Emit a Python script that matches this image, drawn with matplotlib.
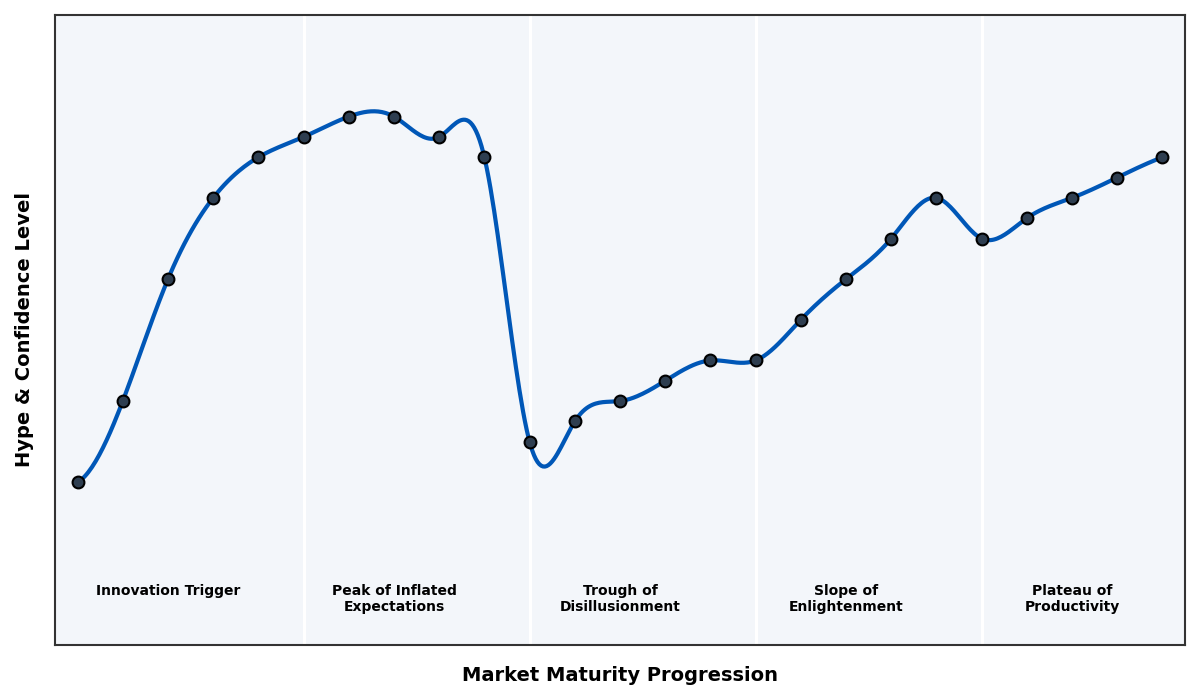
import numpy as np
import matplotlib
matplotlib.use("Agg")
import matplotlib.pyplot as plt

# hype cycle readings, one per step of market maturity
stage = np.arange(25)
hype = [20, 40, 70, 90, 100, 105, 110, 110, 105, 100,
        30, 35, 40, 45, 50, 50, 60, 70, 80, 90,
        80, 85, 90, 95, 100]
phase_edges = [5, 10, 15, 20]
phase_centers = [2, 7, 12, 17, 22]
phase_labels = ["Innovation Trigger", "Peak of Inflated\nExpectations",
                "Trough of\nDisillusionment", "Slope of\nEnlightenment",
                "Plateau of\nProductivity"]


def spline_curve(x, y, num=600):
    # cubic spline with not-a-knot ends, uniform spacing
    x = np.asarray(x, float)
    y = np.asarray(y, float)
    n = len(x)
    h = x[1] - x[0]
    A = np.zeros((n, n))
    b = np.zeros(n)
    A[0, 0:3] = [1, -2, 1]
    A[-1, -3:] = [1, -2, 1]
    for i in range(1, n - 1):
        A[i, i - 1:i + 2] = [1, 4, 1]
        b[i] = 6 * (y[i + 1] - 2 * y[i] + y[i - 1]) / h ** 2
    M = np.linalg.solve(A, b)
    xs = np.linspace(x[0], x[-1], num)
    idx = np.clip(((xs - x[0]) // h).astype(int), 0, n - 2)
    t = (xs - x[idx]) / h
    ys = (M[idx] * (1 - t) ** 3 / 6 + M[idx + 1] * t ** 3 / 6) * h ** 2 \
        + (y[idx] - M[idx] * h ** 2 / 6) * (1 - t) \
        + (y[idx + 1] - M[idx + 1] * h ** 2 / 6) * t
    return xs, ys


fig = plt.figure(figsize=(12, 7), dpi=100)
ax = fig.add_axes([0.0458, 0.0786, 0.9417, 0.9])
ax.set_facecolor("#f3f6fa")

for edge in phase_edges:
    ax.axvline(edge, color="white", linewidth=2.2, zorder=1)

xs, ys = spline_curve(stage, hype)
ax.plot(xs, ys, color="#0057b7", linewidth=3, zorder=2)
ax.plot(stage, hype, "o", markersize=8.5, markerfacecolor="#2e3e50",
        markeredgecolor="black", markeredgewidth=1.5, zorder=3)

for cx, lab in zip(phase_centers, phase_labels):
    ax.text(cx, -5.0, lab, ha="center", va="top", fontsize=10,
            fontweight="bold")

ax.set_xlim(-0.5, 24.5)
ax.set_ylim(-20, 135)
ax.set_xticks([])
ax.set_yticks([])
for s in ax.spines.values():
    s.set_color("#333333")
    s.set_linewidth(1.5)

ax.set_xlabel("Market Maturity Progression", fontsize=14, fontweight="bold",
              labelpad=15)
ax.set_ylabel("Hype & Confidence Level", fontsize=14, fontweight="bold",
              labelpad=15)

fig.savefig("out.png", dpi=100)
